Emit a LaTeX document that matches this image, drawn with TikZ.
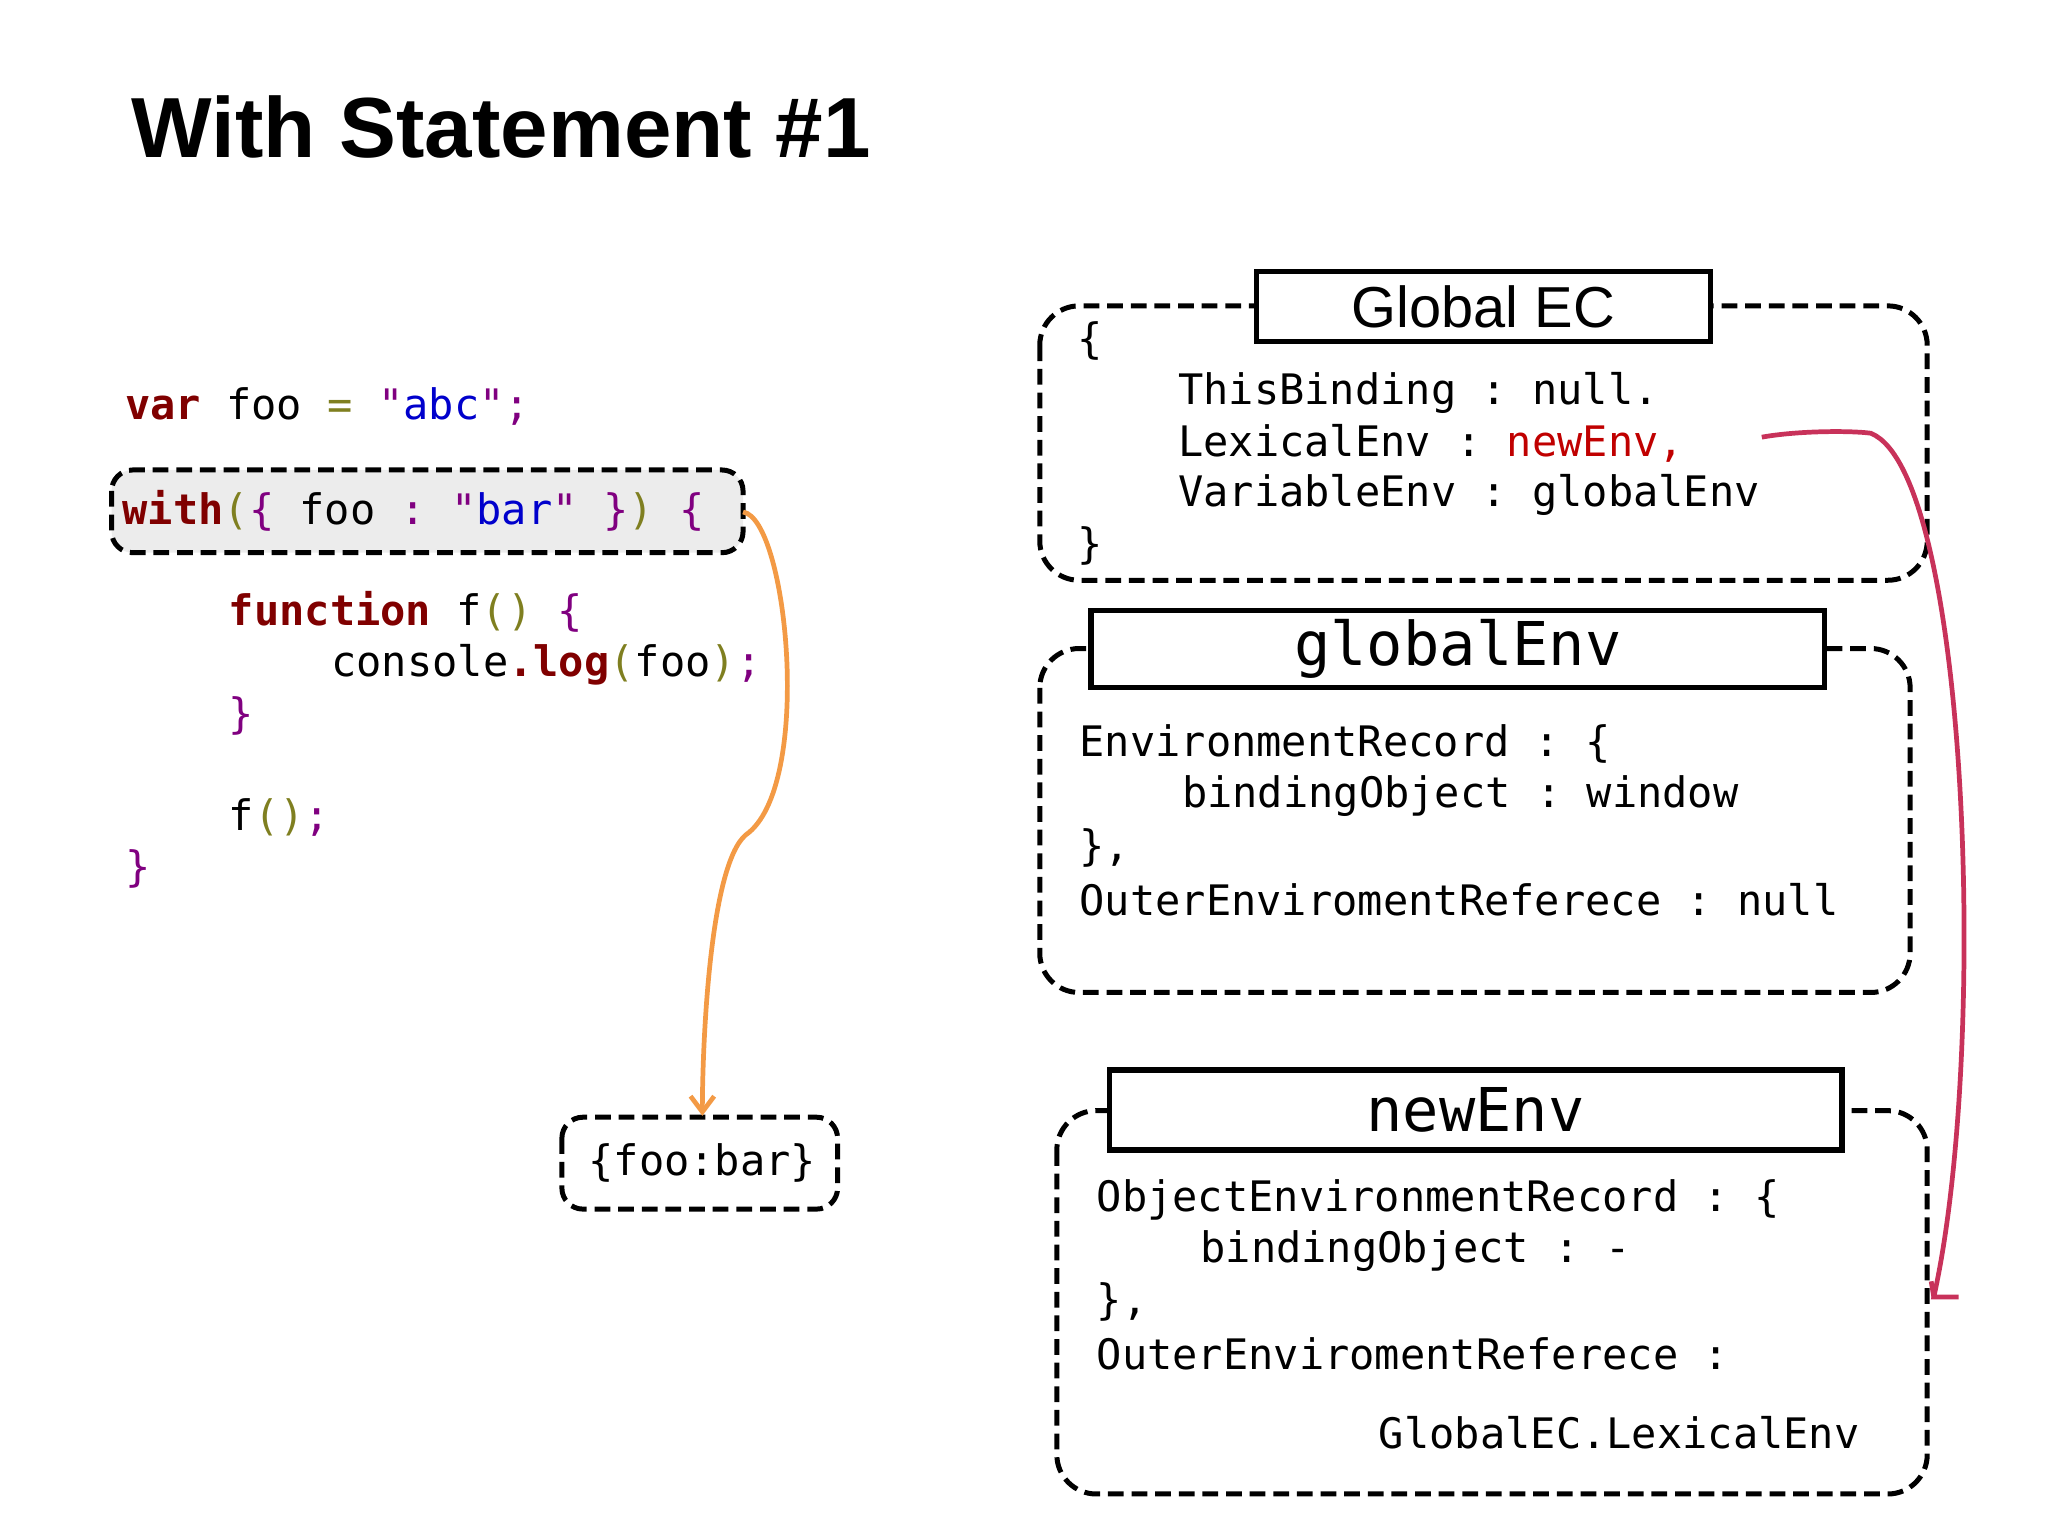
\documentclass[tikz,border=0pt]{standalone}
\usepackage{fontspec}
\setmainfont{Liberation Sans}
\setmonofont{DejaVu Sans Mono}
\usetikzlibrary{arrows.meta}
\definecolor{kw}{HTML}{800000}
\definecolor{pu}{HTML}{800080}
\definecolor{ol}{HTML}{7F7F20}
\definecolor{st}{HTML}{0000CC}
\definecolor{org}{HTML}{F39A45}
\definecolor{rd}{HTML}{C8325A}
\definecolor{ne}{HTML}{C00000}
\newcommand{\kwd}[1]{\textcolor{kw}{\bfseries #1}}
\begin{document}
\begin{tikzpicture}[x=0.5pt,y=-0.5pt,
  dbox/.style={draw,line width=1.9pt,dash pattern=on 6pt off 3pt,rounded corners=15pt},
  hbox/.style={draw,line width=2pt,fill=white},
  code/.style={anchor=west,inner sep=0pt,font=\ttfamily\fontsize{16}{16}\selectfont},
  hd/.style={font=\ttfamily\fontsize{23}{23}\selectfont}]
\useasboundingbox (0,0) rectangle (1560,1170);
\node[anchor=west,inner sep=0pt,font=\bfseries\fontsize{32.5}{32.5}\selectfont] (title) at (100,97) {With Statement \#1};
% code
\draw[dbox,fill=gray!15,rounded corners=8pt] (85,358) rectangle (566,421);
\coordinate (wr) at (566,390);
\node[code] (c1) at (95,310) {\kwd{var} foo \textcolor{ol}{=} \textcolor{pu}{"}\textcolor{st}{abc}\textcolor{pu}{";}};
\node[code] (c2) at (93,389) {\kwd{with}\textcolor{ol}{(}\textcolor{pu}{\{} foo \textcolor{pu}{:} \textcolor{pu}{"}\textcolor{st}{bar}\textcolor{pu}{"} \textcolor{pu}{\}}\textcolor{ol}{)} \textcolor{pu}{\{}};
\node[code] (c3) at (174,466) {\kwd{function} f\textcolor{ol}{()} \textcolor{pu}{\{}};
\node[code] (c4) at (252,506) {console\kwd{.log}\textcolor{ol}{(}foo\textcolor{ol}{)}\textcolor{pu}{;}};
\node[code] (c5) at (174,545) {\textcolor{pu}{\}}};
\node[code] (c6) at (174,623) {f\textcolor{ol}{()}\textcolor{pu}{;}};
\node[code] (c7) at (95,662) {\textcolor{pu}{\}}};
\draw[dbox,rounded corners=8pt] (428,851) rectangle (638,921);
\node[code,anchor=center] (fb) at (535,886) {\{foo:bar\}};
\coordinate (fbt) at (535,850);
\draw[org,line width=1.8pt,-{Straight Barb[length=6pt,width=9pt]}] (wr) .. controls (600,395) and (620,600) .. (568,636) .. controls (540,660) and (535,800) .. (fbt);
% Global EC
\draw[dbox] (792,233) rectangle (1468,442);
\node[hbox,minimum width=173pt,minimum height=26.5pt,font=\fontsize{22}{22}\selectfont] (gec) at (1130,233.5) {Global EC};
\node[code] (g1) at (820,260) {\{};
\node[code] (g2) at (897,299) {ThisBinding : null.};
\node[code] (g3) at (897,338) {LexicalEnv :  \textcolor{ne}{newEnv,}};
\node[code] (g4) at (897,377) {VariableEnv : globalEnv};
\node[code] (g5) at (820,416) {\}};
% globalEnv
\draw[dbox] (792,494) rectangle (1455,756);
\node[hbox,minimum width=279.5pt,minimum height=27.5pt,hd] (ge) at (1110.5,494.5) {globalEnv};
\node[code] (e1) at (822,567) {EnvironmentRecord : \{};
\node[code] (e2) at (900,606) {bindingObject : window};
\node[code] (e3) at (822,646) {\},};
\node[code] (e4) at (822,685) {OuterEnviromentReferece : null};
% newEnv
\draw[dbox] (805,846) rectangle (1468,1138);
\node[hbox,minimum width=279pt,minimum height=30.5pt,hd] (ne) at (1124,845.5) {newEnv};
\node[code] (n1) at (835,914) {ObjectEnvironmentRecord : \{};
\node[code] (n2) at (914,953) {bindingObject : -};
\node[code] (n3) at (835,992) {\},};
\node[code] (n4) at (835,1031) {OuterEnviromentReferece :};
\node[code] (n5) at (1050,1091) {GlobalEC.LexicalEnv};
% red connector
\coordinate (rs) at (1342,333);
\coordinate (re) at (1473,988);
\coordinate (rk) at (1492,988);
\draw[rd,line width=1.8pt] (rs) .. controls (1370,328) and (1410,328) .. (1425,330) .. controls (1500,360) and (1515,800) .. (re) -- (rk);
\draw[rd,line width=1.8pt] (re) -- ++(-2,-12);
\end{tikzpicture}
\end{document}
